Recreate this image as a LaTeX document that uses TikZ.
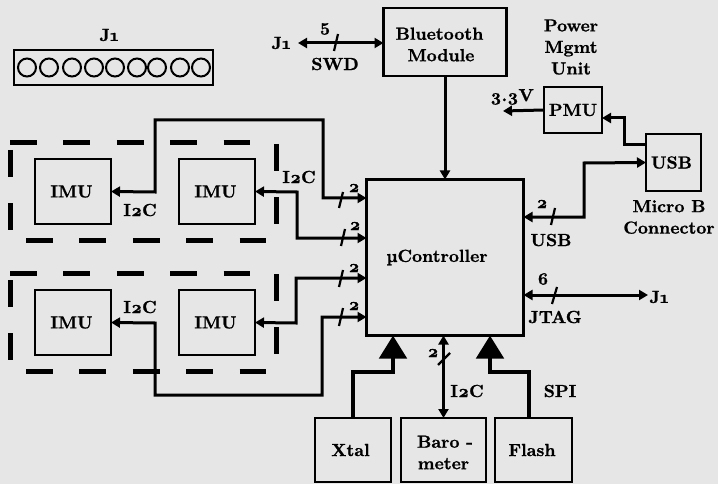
\documentclass[tikz,border=0pt]{standalone}
\usepackage{fontspec}
\setmainfont{lmroman10-bold}[Extension=.otf,BoldFont=lmroman10-bold,Numbers=OldStyle,FakeBold=1.0]
\usetikzlibrary{arrows.meta,calc}
\definecolor{bgc}{HTML}{E6E6E6}
\newcommand{\lowr}[2]{\raisebox{-#1pt}{#2}}
\tikzset{
  x=1pt,y=-1pt,
  lbl/.style={font=\fontsize{17.5}{21.5}\selectfont,inner sep=0,outer sep=0,align=center,text=black},
  box/.style={lbl,draw=black,line width=2.6pt,minimum width=#1,inner sep=0,outer sep=0},
  bus/.style={line width=3pt,black},
  slash/.style={line width=2.2pt,black},
  bi/.style={bus,{Triangle[length=9pt,width=10pt]}-{Triangle[length=9pt,width=10pt]}},
  one/.style={bus,-{Triangle[length=9pt,width=10pt]}},
  fat/.style={line width=4.8pt,black,-{Triangle[length=23pt,width=27pt]}},
  dashline/.style={line width=5pt,black,dash pattern=on 27pt off 26.4pt},
  pin/.style={draw=black,line width=2pt,circle,minimum size=18pt,inner sep=0},
}
\begin{document}
\begin{tikzpicture}
\path[use as bounding box,fill=bgc] (0,0) rectangle (718,484);
% J1 header
\node[box=199pt,minimum height=35pt] (hdr) at (113.5,67.5) {};
\foreach \n/\cx in {1/27,2/49,3/72,4/94,5/115,6/137,7/157,8/180,9/201}
  \node[pin] (p\n) at (\cx,67.5) {};
\node[lbl] (hdrl) at (109,35) {J1};
% boxes
\node[box=123pt,minimum height=68pt] (bt) at (445,42) {\rule{0pt}{17pt}Bluetooth\hspace*{11pt}\\Module\hspace*{8pt}};
\node[box=157pt,minimum height=156pt] (ctrl) at (445,257.5) {\lowr{2}{µController}\hspace*{16pt}};
\node[box=58pt,minimum height=46pt] (pmu) at (573,110) {PMU};
\node[box=55pt,minimum height=57pt] (usb) at (673.5,162.5) {USB\hspace*{4pt}};
\node[box=76pt,minimum height=65pt] (imua) at (73,191.5) {\lowr{1}{IMU}\hspace*{3pt}};
\node[box=76pt,minimum height=65pt] (imub) at (217,191.5) {\lowr{1}{IMU}\hspace*{3pt}};
\node[box=76pt,minimum height=65pt] (imuc) at (73,322.5) {\lowr{1}{IMU}\hspace*{3pt}};
\node[box=76pt,minimum height=65pt] (imud) at (217,322.5) {\lowr{1}{IMU}\hspace*{3pt}};
\node[box=76pt,minimum height=64pt] (xtal) at (353,450) {Xtal\hspace*{5pt}};
\node[box=85pt,minimum height=64pt] (baro) at (443.5,450) {\rule{0pt}{17pt}\hspace*{3pt}Baro -\\meter};
\node[box=77pt,minimum height=64pt] (flash) at (533.5,450) {Flash\hspace*{3pt}};
% dashed groups
\draw[dashline] (10,143) -- (250,143);
\draw[dashline] (26,240) -- (266,240);
\draw[dashline] (10,150) -- (10,232);
\draw[dashline] (276,144) -- (276,226);
\draw[dashline] (10,280) -- (10,362);
\draw[dashline] (276,274) -- (276,356);
\draw[dashline] (10,273.7) -- (250,273.7);
\draw[dashline] (26,371) -- (266,371);
% labels
\node[lbl] (lj) at (281,43) {J1};
\node[lbl] (lfive) at (325,29) {5};
\node[lbl] (lswd) at (335,64) {SWD};
\node[lbl] (lpow) at (571,47) {Power\\Mgmt\\Unit};
\node[lbl] (lv) at (512,97) {3.3V};
\node[lbl] (lmicro) at (669,217) {Micro B\\Connector};
\node[lbl] (lusb) at (551,240) {USB};
\node[lbl] (lt) at (542,204) {2};
\node[lbl] (lsix) at (543,279) {6};
\node[lbl] (ljtag) at (555,317) {JTAG};
\node[lbl] (lj2) at (659,297) {J1};
\node[lbl] (lia) at (140,210) {I2C};
\node[lbl] (lib) at (299,177) {I2C};
\node[lbl] (lic) at (140,307) {I2C};
\node[lbl] (lba) at (467,391) {I2C};
\node[lbl] (lspi) at (560,391) {SPI};
\node[lbl] (l2a) at (354,188) {2};
\node[lbl] (l2b) at (355,226) {2};
\node[lbl] (l2c) at (354,268) {2};
\node[lbl] (l2d) at (354,306) {2};
\node[lbl] (l2e) at (433,353) {2};
% connectors
\coordinate (jl) at (298,43);
\coordinate (jr) at (648,295);
\draw[bi] (jl) -- (bt.west |- jl);
\draw[slash] (338,34) -- (334,51);
\draw[one] (bt.south) -- (ctrl.north);
\draw[one] (pmu.west) -- (503,111);
\draw[one] (usb.west |- 0,145) -- (624,145) -- (624,118) -- (pmu.east |- 0,118);
\draw[bi] (usb.west) -- (584,163) -- (584,217) -- (ctrl.east |- 0,217);
\draw[slash] (555,208) -- (551,225);
\draw[bi] (ctrl.east |- jr) -- (jr);
\draw[slash] (557,287) -- (552,304);
\draw[bi] (imua.east) -- (155,192) -- (155,120) -- (323,120) -- (323,198) -- (ctrl.west |- 0,198);
\draw[slash] (343,192) -- (339,208);
\draw[bi] (imub.east) -- (297,192) -- (297,238) -- (ctrl.west |- 0,238);
\draw[slash] (345,229) -- (341,246);
\draw[bi] (imud.east) -- (296,323) -- (296,278) -- (ctrl.west |- 0,278);
\draw[slash] (343,270) -- (339,287);
\draw[bi] (imuc.east) -- (155,323) -- (155,395) -- (322,395) -- (322,317) -- (ctrl.west |- 0,317);
\draw[slash] (343,308) -- (339,326);
\draw[bi] (ctrl.south -| baro.north) -- (baro.north);
\draw[slash] (450,353) -- (438,365);
\draw[fat] (xtal.north) -- (353,372) -- (393,372) -- (ctrl.south -| 393,0);
\draw[fat] (flash.north -| 529,0) -- (529,372) -- (490,372) -- (ctrl.south -| 490,0);
\end{tikzpicture}
\end{document}
